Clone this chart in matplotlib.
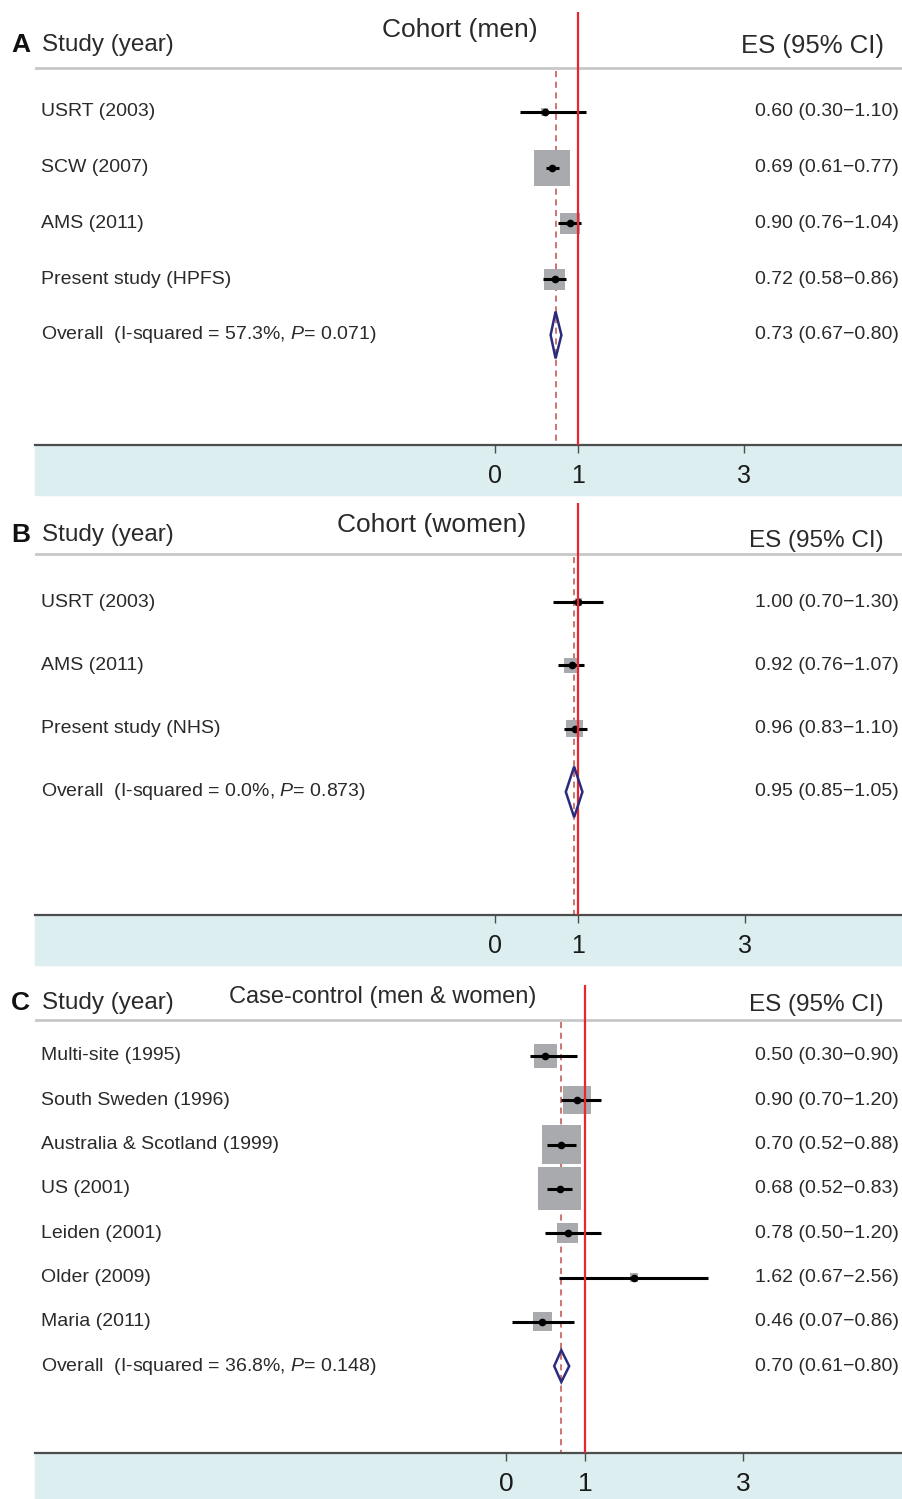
import numpy as np
import matplotlib.pyplot as plt
import matplotlib.transforms as mtransforms
from matplotlib.patches import Rectangle, Polygon

plt.rcParams['font.family'] = ['Liberation Sans', 'DejaVu Sans']
plt.rcParams['mathtext.fontset'] = 'custom'
plt.rcParams['mathtext.rm'] = 'Liberation Sans'
plt.rcParams['mathtext.it'] = 'Liberation Sans:italic'

# Panel A - cohort (men)
men_studies = ["USRT (2003)", "SCW (2007)", "AMS (2011)", "Present study (HPFS)"]
men_es = [0.60, 0.69, 0.90, 0.72]
men_lo = [0.30, 0.61, 0.76, 0.58]
men_hi = [1.10, 0.77, 1.04, 0.86]
men_weight = [2.3, 59.4, 18.8, 19.5]
men_overall = [0.73, 0.67, 0.80]
men_isq, men_p = "57.3%", "0.071"

# Panel B - cohort (women)
women_studies = ["USRT (2003)", "AMS (2011)", "Present study (NHS)"]
women_es = [1.00, 0.92, 0.96]
women_lo = [0.70, 0.76, 0.83]
women_hi = [1.30, 1.07, 1.10]
women_weight = [10.0, 39.0, 51.0]
women_overall = [0.95, 0.85, 1.05]
women_isq, women_p = "0.0%", "0.873"

# Panel C - case-control (men & women)
cc_studies = ["Multi-site (1995)", "South Sweden (1996)", "Australia & Scotland (1999)",
              "US (2001)", "Leiden (2001)", "Older (2009)", "Maria (2011)"]
cc_es = [0.50, 0.90, 0.70, 0.68, 0.78, 1.62, 0.46]
cc_lo = [0.30, 0.70, 0.52, 0.52, 0.50, 0.67, 0.07]
cc_hi = [0.90, 1.20, 0.88, 0.83, 1.20, 2.56, 0.86]
cc_weight = [10.0, 14.5, 27.0, 33.5, 7.5, 1.2, 6.3]
cc_overall = [0.70, 0.61, 0.80]
cc_isq, cc_p = "36.8%", "0.148"

xticks = [0, 1, 3]

W, H = 903, 1499
fig = plt.figure(figsize=(W / 100, H / 100), dpi=100)

TXT = '#2A2A2A'
RED = '#E8262E'
DASH = '#C0504D'
GRAY_BOX = '#A9AAAD'
NAVY = '#2B2B7E'
BAND = '#DCEEF0'


def fx(px):
    return px / W


def fy(py):
    return 1 - py / H


def panel(letter, title, studies, es, lo, hi, weight, overall, isq, pval, lay):
    top, bottom, band_bot = lay['top'], lay['bottom'], lay['band']
    row0, step = lay['row0'], lay['step']
    zero, unit = lay['zero'], lay['unit']

    def ry(px):
        return (px - row0) / step

    ax = fig.add_axes([fx(35), fy(bottom), fx(903) - fx(35), (bottom - top) / H])
    ax.set_xlim((35 - zero) / unit, (903 - zero) / unit)
    ax.set_ylim(ry(bottom), ry(top))
    for s in ['top', 'left', 'right']:
        ax.spines[s].set_visible(False)
    ax.spines['bottom'].set_color('#4D4D4D')
    ax.spines['bottom'].set_linewidth(1.6)
    ax.set_yticks([])
    ax.set_xticks(xticks)
    ax.set_xticklabels([str(t) for t in xticks])
    ax.tick_params(axis='x', direction='out', length=6, width=1, colors='#4D4D4D',
                   labelcolor='#1A1A1A', labelsize=lay['tick_fs'], pad=8)

    # light blue band under the axis
    fig.add_artist(Rectangle((fx(35), fy(band_bot)), fx(903) - fx(35), (band_bot - bottom) / H,
                             transform=fig.transFigure, color=BAND, zorder=-1))

    sep = ry(lay['sep'])
    ax.axhline(sep, color='#C8C8C8', lw=2, zorder=1)
    ax.axvline(1, color=RED, lw=1.6, zorder=5)
    ax.plot([overall[0], overall[0]], [sep + 0.05, ry(bottom)], color=DASH, lw=1.1,
            dashes=(4, 3), zorder=1)

    y = np.arange(len(studies))
    w = np.array(weight)
    side_pt = lay['box'] * np.sqrt(w / w.max()) * 0.72
    ax.scatter(es, y, marker='s', s=side_pt ** 2, color=GRAY_BOX, linewidths=0, zorder=2)
    ax.hlines(y, lo, hi, color='black', lw=2.2, zorder=3)
    ax.plot(es, y, 'o', color='black', ms=4.5, zorder=4)

    yd = len(studies)
    hh = lay['dia']
    ax.add_patch(Polygon([(overall[1], yd), (overall[0], yd - hh), (overall[2], yd),
                          (overall[0], yd + hh)], closed=True, fill=False,
                         ec=NAVY, lw=1.8, zorder=6))

    blend = mtransforms.blended_transform_factory(fig.transFigure, ax.transData)
    lab_fs = 14
    for i, name in enumerate(studies):
        ax.text(fx(41), i, name, transform=blend, ha='left', va='center',
                fontsize=lab_fs, color=TXT)
        ax.text(fx(899), i, f"{es[i]:.2f} ({lo[i]:.2f}\u2212{hi[i]:.2f})", transform=blend,
                ha='right', va='center', fontsize=lab_fs, color=TXT)
    ax.text(fx(41), yd, f"Overall  (I-squared = {isq}, $P$= {pval})", transform=blend,
            ha='left', va='center', fontsize=lab_fs, color=TXT)
    ax.text(fx(899), yd, f"{overall[0]:.2f} ({overall[1]:.2f}\u2212{overall[2]:.2f})",
            transform=blend, ha='right', va='center', fontsize=lab_fs, color=TXT)

    ax.text(fx(11), ry(lay['head']), letter, transform=blend, ha='left', va='center',
            fontsize=19, fontweight='bold', color='#111111')
    ax.text(fx(42), ry(lay['head']), "Study (year)", transform=blend, ha='left',
            va='center', fontsize=17.5, color=TXT)
    ax.text(fx(884), ry(lay['es_head']), "ES (95% CI)", transform=blend, ha='right',
            va='center', fontsize=lay['es_fs'], color=TXT)
    ax.text(fx(lay['title_x']), ry(lay['title_y']), title, transform=blend, ha='center',
            va='center', fontsize=lay['title_fs'], color=TXT)
    return ax


panel("A", "Cohort (men)", men_studies, men_es, men_lo, men_hi, men_weight,
      men_overall, men_isq, men_p,
      dict(top=12, bottom=445, band=495, row0=112, step=55.75, zero=495, unit=83,
           sep=68, head=45, es_head=46, title_x=460, title_y=30, title_fs=19,
           tick_fs=18, box=36, dia=0.42, es_fs=18.5))
panel("B", "Cohort (women)", women_studies, women_es, women_lo, women_hi, women_weight,
      women_overall, women_isq, women_p,
      dict(top=503, bottom=915, band=965, row0=602, step=63.3, zero=495, unit=83.3,
           sep=554, head=535, es_head=541, title_x=432, title_y=525, title_fs=19,
           tick_fs=18, box=17, dia=0.40, es_fs=17.5))
panel("C", "Case-control (men & women)", cc_studies, cc_es, cc_lo, cc_hi, cc_weight,
      cc_overall, cc_isq, cc_p,
      dict(top=985, bottom=1453, band=1499, row0=1056, step=44.3, zero=506, unit=79,
           sep=1020, head=1003, es_head=1005, title_x=383, title_y=997, title_fs=17,
           tick_fs=19, box=43, dia=0.36, es_fs=17.5))

fig.savefig("out.png", dpi=100)
